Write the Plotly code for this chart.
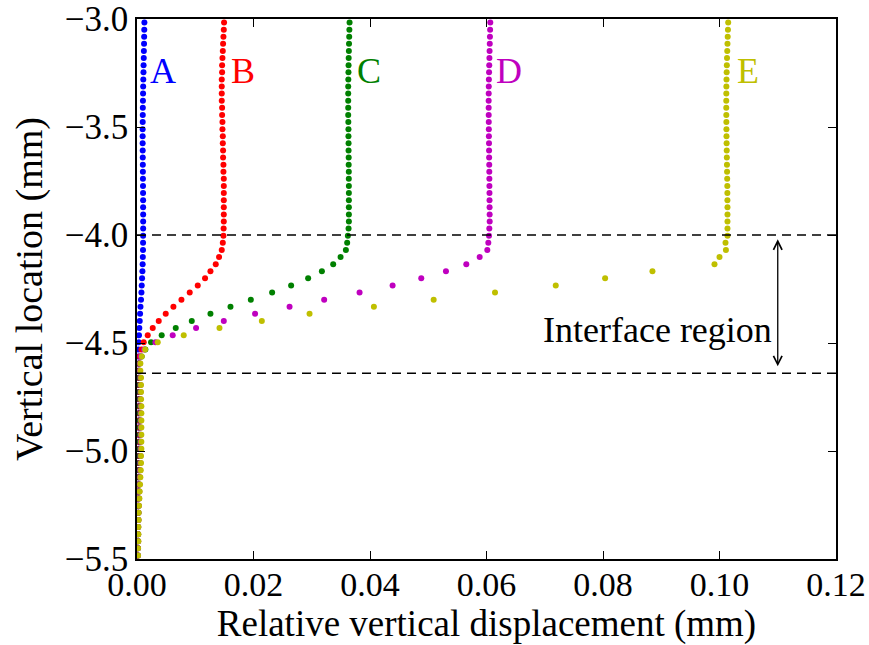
import plotly.graph_objects as go

# ---------------- data ----------------
# vertical location of the sample points (mm)
y_nodes = [
    -3.0164, -3.0493, -3.0822, -3.1151, -3.1480, -3.1809, -3.2138, -3.2467, -3.2796, -3.3125,
    -3.3454, -3.3783, -3.4112, -3.4441, -3.4770, -3.5099, -3.5428, -3.5757, -3.6086, -3.6414,
    -3.6743, -3.7072, -3.7401, -3.7730, -3.8059, -3.8388, -3.8717, -3.9046, -3.9375, -3.9704,
    -4.0033, -4.0362, -4.0691, -4.1020, -4.1349, -4.1678, -4.2007, -4.2336, -4.2664, -4.2993,
    -4.3322, -4.3651, -4.3980, -4.4309, -4.4638, -4.4967, -4.5296, -4.5625, -4.5954, -4.6283,
    -4.6612, -4.6941, -4.7270, -4.7599, -4.7928, -4.8257, -4.8586, -4.8914, -4.9243, -4.9572,
    -4.9901, -5.0230, -5.0559, -5.0888, -5.1217, -5.1546, -5.1875, -5.2204, -5.2533, -5.2862,
    -5.3191, -5.3520, -5.3849, -5.4178, -5.4507, -5.4836,
]

# relative vertical displacement (mm) for the five curves
disp_A = [
    0.00127, 0.00125, 0.00123, 0.00121, 0.00118, 0.00116, 0.00113, 0.00111, 0.00108, 0.00106,
    0.00104, 0.00102, 0.00100, 0.00099, 0.00098, 0.00097, 0.00097, 0.00097, 0.00098, 0.00099,
    0.00100, 0.00101, 0.00102, 0.00103, 0.00104, 0.00105, 0.00105, 0.00106, 0.00106, 0.00106,
    0.00105, 0.00104, 0.00103, 0.00100, 0.00097, 0.00093, 0.00087, 0.00081, 0.00076, 0.00069,
    0.00060, 0.00053, 0.00047, 0.00040, 0.00034, 0.00029, 0.00025, 0.00022, 0.00020, 0.00020,
    0.00021, 0.00022, 0.00023, 0.00024, 0.00025, 0.00025, 0.00025, 0.00025, 0.00025, 0.00025,
    0.00024, 0.00023, 0.00022, 0.00021, 0.00020, 0.00019, 0.00018, 0.00017, 0.00016, 0.00015,
    0.00014, 0.00013, 0.00012, 0.00011, 0.00010, 0.00010,
]
disp_B = [
    0.01495, 0.01490, 0.01484, 0.01478, 0.01473, 0.01467, 0.01461, 0.01461, 0.01455, 0.01455,
    0.01455, 0.01455, 0.01461, 0.01461, 0.01467, 0.01467, 0.01473, 0.01473, 0.01478, 0.01478,
    0.01484, 0.01484, 0.01490, 0.01490, 0.01490, 0.01490, 0.01490, 0.01490, 0.01490, 0.01487,
    0.01484, 0.01473, 0.01455, 0.01409, 0.01352, 0.01261, 0.01168, 0.01043, 0.00905, 0.00763,
    0.00625, 0.00493, 0.00373, 0.00270, 0.00184, 0.00115, 0.00076, 0.00045, 0.00032, 0.00030,
    0.00031, 0.00032, 0.00033, 0.00034, 0.00035, 0.00035, 0.00035, 0.00035, 0.00035, 0.00035,
    0.00034, 0.00033, 0.00032, 0.00030, 0.00028, 0.00026, 0.00024, 0.00022, 0.00020, 0.00018,
    0.00017, 0.00016, 0.00015, 0.00014, 0.00013, 0.00012,
]
disp_C = [
    0.03649, 0.03646, 0.03643, 0.03640, 0.03637, 0.03634, 0.03632, 0.03630, 0.03628, 0.03626,
    0.03626, 0.03626, 0.03626, 0.03626, 0.03628, 0.03630, 0.03630, 0.03632, 0.03632, 0.03634,
    0.03634, 0.03636, 0.03636, 0.03637, 0.03637, 0.03637, 0.03637, 0.03637, 0.03637, 0.03632,
    0.03620, 0.03608, 0.03586, 0.03495, 0.03368, 0.03174, 0.02938, 0.02646, 0.02320, 0.01954,
    0.01605, 0.01261, 0.00940, 0.00665, 0.00424, 0.00241, 0.00144, 0.00080, 0.00045, 0.00042,
    0.00045, 0.00046, 0.00047, 0.00048, 0.00050, 0.00050, 0.00050, 0.00050, 0.00050, 0.00049,
    0.00048, 0.00047, 0.00045, 0.00042, 0.00040, 0.00037, 0.00034, 0.00031, 0.00028, 0.00025,
    0.00023, 0.00021, 0.00019, 0.00018, 0.00016, 0.00015,
]
disp_D = [
    0.06065, 0.06062, 0.06059, 0.06056, 0.06053, 0.06050, 0.06047, 0.06044, 0.06041, 0.06039,
    0.06038, 0.06037, 0.06037, 0.06038, 0.06039, 0.06040, 0.06041, 0.06043, 0.06044, 0.06045,
    0.06047, 0.06048, 0.06049, 0.06050, 0.06051, 0.06052, 0.06053, 0.06054, 0.06055, 0.06048,
    0.06043, 0.06031, 0.06014, 0.05883, 0.05653, 0.05304, 0.04880, 0.04388, 0.03821, 0.03213,
    0.02619, 0.02027, 0.01490, 0.01014, 0.00613, 0.00316, 0.00120, 0.00062, 0.00050, 0.00048,
    0.00058, 0.00060, 0.00060, 0.00061, 0.00064, 0.00065, 0.00065, 0.00065, 0.00065, 0.00064,
    0.00063, 0.00060, 0.00058, 0.00054, 0.00050, 0.00045, 0.00040, 0.00036, 0.00031, 0.00026,
    0.00025, 0.00021, 0.00020, 0.00020, 0.00016, 0.00015,
]
disp_E = [
    0.10149, 0.10145, 0.10141, 0.10137, 0.10133, 0.10129, 0.10126, 0.10123, 0.10120, 0.10118,
    0.10117, 0.10116, 0.10116, 0.10117, 0.10118, 0.10119, 0.10120, 0.10122, 0.10124, 0.10126,
    0.10128, 0.10130, 0.10132, 0.10134, 0.10135, 0.10136, 0.10137, 0.10137, 0.10137, 0.10137,
    0.10137, 0.10103, 0.10110, 0.10000, 0.09914, 0.08849, 0.08036, 0.07189, 0.06146, 0.05093,
    0.04067, 0.02962, 0.02143, 0.01416, 0.00802, 0.00356, 0.00138, 0.00081, 0.00058, 0.00058,
    0.00069, 0.00069, 0.00069, 0.00069, 0.00075, 0.00075, 0.00075, 0.00075, 0.00075, 0.00075,
    0.00075, 0.00069, 0.00069, 0.00064, 0.00058, 0.00052, 0.00046, 0.00041, 0.00035, 0.00029,
    0.00029, 0.00024, 0.00024, 0.00024, 0.00018, 0.00018,
]

curve_names = ["A", "B", "C", "D", "E"]
curve_colors = ["#0000ff", "#ff0000", "#008000", "#bf00bf", "#bfbf00"]
label_x = [0.0019, 0.0158, 0.0375, 0.0613, 0.1026]
label_y = -3.24

interface_top = -4.0
interface_bottom = -4.64
arrow_x = 0.11
interface_text = "Interface region"
interface_text_pos = (0.1093, -4.44)

x_ticks = [0.00, 0.02, 0.04, 0.06, 0.08, 0.10, 0.12]
x_ticktext = ["0.00", "0.02", "0.04", "0.06", "0.08", "0.10", "0.12"]
y_ticks = [-3.0, -3.5, -4.0, -4.5, -5.0, -5.5]
y_ticktext = ["\u22123.0", "\u22123.5", "\u22124.0", "\u22124.5", "\u22125.0", "\u22125.5"]

x_title = "Relative vertical displacement (mm)"
y_title = "Vertical location (mm)"

# ---------------- figure ----------------
FONT = "Liberation Serif"
fig = go.Figure()

for name, color, xs in zip(curve_names, curve_colors, [disp_A, disp_B, disp_C, disp_D, disp_E]):
    fig.add_trace(go.Scatter(
        x=xs, y=y_nodes, mode="markers", name=name,
        marker=dict(color=color, size=6, line=dict(width=0)),
        showlegend=False, cliponaxis=True,
    ))

annotations = []
for name, color, lx in zip(curve_names, curve_colors, label_x):
    annotations.append(dict(
        x=lx, y=label_y, xref="x", yref="y", text=name, showarrow=False,
        xanchor="left", yanchor="middle",
        font=dict(family=FONT, size=36, color=color),
    ))

# double-headed arrow marking the interface region
annotations.append(dict(
    x=arrow_x, y=interface_top - 0.02, ax=arrow_x, ay=interface_bottom + 0.025,
    xref="x", yref="y", axref="x", ayref="y", text="", showarrow=True,
    arrowside="end+start", arrowhead=5, startarrowhead=5,
    arrowsize=1.3, startarrowsize=1.3, arrowwidth=1.3, arrowcolor="black",
    standoff=0, startstandoff=0,
))
annotations.append(dict(
    x=interface_text_pos[0], y=interface_text_pos[1], xref="x", yref="y",
    text=interface_text, showarrow=False, xanchor="right", yanchor="middle",
    font=dict(family=FONT, size=36, color="black"),
))

shapes = []
for yv in [interface_top, interface_bottom]:
    shapes.append(dict(
        type="line", xref="x", yref="y", x0=x_ticks[0], x1=x_ticks[-1], y0=yv, y1=yv,
        line=dict(color="black", width=1.3, dash="9px,6px"), layer="above",
    ))

fig.update_layout(
    width=869, height=645,
    margin=dict(l=137, r=33, t=19, b=86),
    paper_bgcolor="white", plot_bgcolor="white",
    font=dict(family=FONT, size=34, color="black"),
    annotations=annotations, shapes=shapes,
    showlegend=False,
)
fig.update_xaxes(
    range=[0, 0.12], tickvals=x_ticks, ticktext=x_ticktext,
    showgrid=False, zeroline=False, showline=True, linecolor="black", linewidth=1.5,
    mirror="ticks", ticks="inside", ticklen=8, tickwidth=1, tickcolor="black",
    tickfont=dict(family=FONT, size=34), ticklabelstandoff=-6,
    title=dict(text=x_title, font=dict(family=FONT, size=37), standoff=6),
    automargin=False,
)
fig.update_yaxes(
    range=[-5.5, -3.0], tickvals=y_ticks, ticktext=y_ticktext,
    showgrid=False, zeroline=False, showline=True, linecolor="black", linewidth=1.5,
    mirror="ticks", ticks="inside", ticklen=8, tickwidth=1, tickcolor="black",
    tickfont=dict(family=FONT, size=35),
    title=dict(text=y_title, font=dict(family=FONT, size=38), standoff=10),
    automargin=False,
)

fig.write_html("out.html")
